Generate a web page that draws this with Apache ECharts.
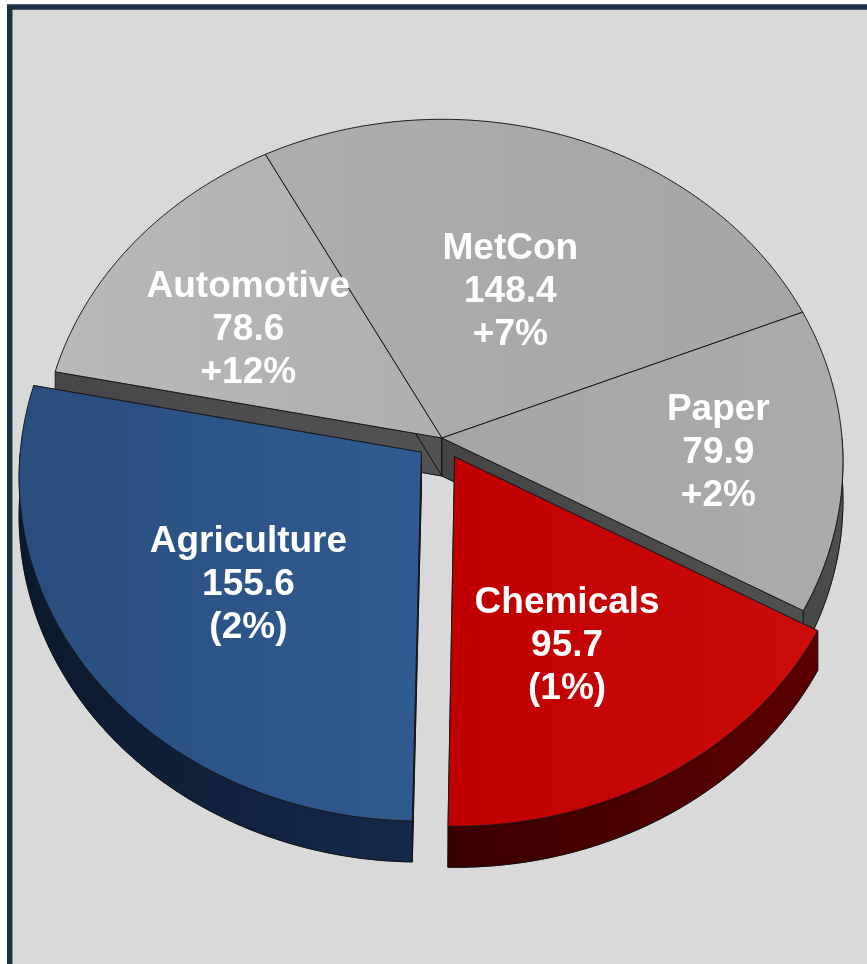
<!DOCTYPE html>
<html><head><meta charset="utf-8">
<script src="https://cdn.jsdelivr.net/npm/echarts@6/dist/echarts.min.js"></script>
<style>html,body{margin:0;padding:0;background:#fff}#c{width:867px;height:964px}</style>
</head><body><div id="c"></div>
<script>
// ---- data (clockwise from the bottom of the pie) ----
const categories = ['Agriculture', 'Automotive', 'MetCon', 'Paper', 'Chemicals'];
const values = [155.6, 78.6, 148.4, 79.9, 95.7];
const changes = ['(2%)', '+12%', '+7%', '+2%', '(1%)'];

// ---- styling / layout ----
const geo = { cx: 442, cy: 438, rx: 400, ry: 341, persp: 0.07, depth: 38, startAngle: 269 };
const explode = [0.066, 0, 0, 0, 0.063];
const labelR = [0.56, 0.6, 0.48, 0.7, 0.57];
const labelNudge = [[7, 9], [-6, 11], [5, 3], [-4, 0], [-6, 13]];
const topColors = [['#294d7e', '#2f5b90'], ['#b9b9b9', '#afafaf'], ['#adadad', '#a5a5a5'], ['#a5a5a5', '#ababab'], ['#c00000', '#cc0b0b']];
const sideColors = [['#0b192e', '#14294a'], ['#474747', '#525252'], ['#474747', '#525252'], ['#454545', '#505050'], ['#3a0000', '#5c0000']];

const total = values.reduce((a, b) => a + b, 0);
const starts = [];
let acc = 0;
values.forEach(v => { starts.push(acc); acc += v; });

function proj(u, v, drop) {
  const f = 1 / (1 + geo.persp * v);
  return [geo.cx + geo.rx * u * f, geo.cy - geo.ry * v * f + (drop || 0) * f];
}
function lg(c) {
  return new echarts.graphic.LinearGradient(0, 0, 1, 0, [{ offset: 0, color: c[0] }, { offset: 1, color: c[1] }]);
}

function renderItem(params, api) {
  const i = params.dataIndex;
  const val = api.value(1);
  const a0 = geo.startAngle - starts[i] / total * 360;
  const a1 = a0 - val / total * 360;
  const mid = (a0 + a1) / 2 * Math.PI / 180;
  const e = explode[i];
  const ou = e * Math.cos(mid), ov = e * Math.sin(mid);
  const D = geo.depth;
  const n = Math.max(2, Math.ceil((a0 - a1) / 0.5));
  const arc = [];
  for (let k = 0; k <= n; k++) {
    const t = (a0 + (a1 - a0) * k / n) * Math.PI / 180;
    arc.push({ u: ou + Math.cos(t), v: ov + Math.sin(t), s: Math.sin(t) });
  }
  const sideZ = e > 0 ? 3 : 1;
  const sideStyle = { fill: lg(sideColors[i]), stroke: '#111', lineWidth: 0.8 };
  const children = [];
  const topPts = [proj(ou, ov, 0)].concat(arc.map(p => proj(p.u, p.v, 0)));
  const botPts = [proj(ou, ov, D)].concat(arc.map(p => proj(p.u, p.v, D)));
  children.push({ type: 'polygon', shape: { points: botPts }, style: sideStyle, z2: sideZ });
  [arc[0], arc[arc.length - 1]].forEach(p => {
    children.push({
      type: 'polygon',
      shape: { points: [proj(ou, ov, 0), proj(p.u, p.v, 0), proj(p.u, p.v, D), proj(ou, ov, D)] },
      style: sideStyle, z2: sideZ
    });
  });
  const front = arc.filter(p => p.s < 0);
  if (front.length > 1) {
    const band = front.map(p => proj(p.u, p.v, 0)).concat(front.slice().reverse().map(p => proj(p.u, p.v, D)));
    children.push({ type: 'polygon', shape: { points: band }, style: sideStyle, z2: sideZ + 1 });
  }
  children.push({
    type: 'polygon', shape: { points: topPts },
    style: { fill: lg(topColors[i]), stroke: '#1a1a1a', lineWidth: 1 }, z2: 10
  });
  const lr = e + labelR[i];
  const lp = proj(lr * Math.cos(mid), lr * Math.sin(mid), 0);
  children.push({
    type: 'text', x: lp[0] + labelNudge[i][0], y: lp[1] + labelNudge[i][1], z2: 20,
    style: {
      text: categories[i] + '\n' + val.toFixed(1) + '\n' + changes[i],
      fill: '#ffffff', fontSize: 37, fontWeight: 'bold',
      fontFamily: '"Liberation Sans", Arial, sans-serif',
      align: 'center', verticalAlign: 'middle', lineHeight: 43
    }
  });
  return { type: 'group', children: children };
}

const chart = echarts.init(document.getElementById('c'), null, { renderer: 'canvas' });
chart.setOption({
  backgroundColor: '#ffffff',
  animation: false,
  graphic: [{
    type: 'rect', z: 0,
    shape: { x: 9.7, y: 7, width: 1000, height: 1100 },
    style: { fill: '#d9d9d9', stroke: '#1d3249', lineWidth: 5.5 }
  }],
  series: [{
    type: 'custom',
    coordinateSystem: 'none',
    z: 5,
    renderItem: renderItem,
    data: values.map((v, i) => [i, v])
  }]
});
</script>
</body></html>
